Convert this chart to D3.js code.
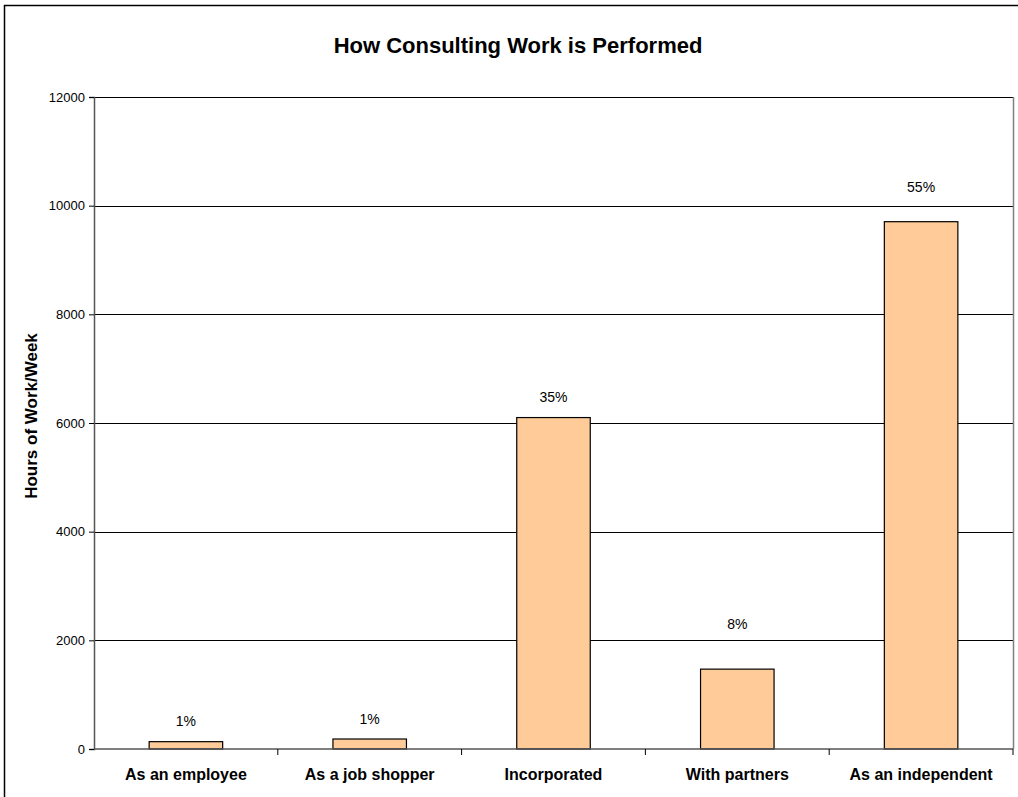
<!DOCTYPE html>
<html>
<head>
<meta charset="utf-8">
<script src="https://cdn.jsdelivr.net/npm/d3@7"></script>
<style>
  html, body { margin: 0; padding: 0; background: #fff; }
  svg { display: block; font-family: "Liberation Sans", Arial, sans-serif; }
</style>
</head>
<body>
<svg id="chart" width="1018" height="797"></svg>
<script>
// Hours of consulting work per week, by how the work is performed
const categories = ["As an employee", "As a job shopper", "Incorporated", "With partners", "As an independent"];
const hours = [135, 184, 6100, 1470, 9705];
const shareLabels = ["1%", "1%", "35%", "8%", "55%"];
const yTicks = [0, 2000, 4000, 6000, 8000, 10000, 12000];

// Vertical gap between each bar top and its share label
const labelGap = [21, 20, 21, 45, 35];

const svg = d3.select("#chart");
const plot = { left: 94, right: 1013, top: 97, bottom: 749 };

// Outer chart frame (continues past the bottom and right edges)
svg.append("path")
  .attr("d", "M4.5,800 V5.5 H1020")
  .attr("fill", "none")
  .attr("stroke", "#000")
  .attr("stroke-width", 1.5);

svg.append("text")
  .attr("x", 518).attr("y", 53)
  .attr("text-anchor", "middle")
  .attr("font-size", 22).attr("font-weight", "bold")
  .text("How Consulting Work is Performed");

const x = d3.scaleBand()
  .domain(categories)
  .range([plot.left, plot.right]);

const y = d3.scaleLinear()
  .domain([0, 12000])
  .range([plot.bottom, plot.top]);

// Horizontal gridlines
svg.append("g")
  .selectAll("line")
  .data(yTicks.filter(d => d > 0))
  .join("line")
  .attr("x1", plot.left).attr("x2", plot.right)
  .attr("y1", d => Math.round(y(d)) + 0.5).attr("y2", d => Math.round(y(d)) + 0.5)
  .attr("stroke", "#000").attr("stroke-width", 1);

// Right edge of the plot area
svg.append("line")
  .attr("x1", plot.right + 0.5).attr("x2", plot.right + 0.5)
  .attr("y1", plot.top).attr("y2", plot.bottom)
  .attr("stroke", "#808080").attr("stroke-width", 1.5);

// Bars
const barWidth = x.bandwidth() * 0.4;
svg.append("g")
  .selectAll("rect")
  .data(categories)
  .join("rect")
  .attr("x", (d) => x(d) + (x.bandwidth() - barWidth) / 2)
  .attr("width", barWidth)
  .attr("y", (d, i) => y(hours[i]))
  .attr("height", (d, i) => y(0) - y(hours[i]))
  .attr("fill", "#ffcc99")
  .attr("stroke", "#000")
  .attr("stroke-width", 1.2);

// Share labels above bars
svg.append("g")
  .selectAll("text")
  .data(categories)
  .join("text")
  .attr("x", d => x(d) + x.bandwidth() / 2)
  .attr("y", (d, i) => y(hours[i]) - labelGap[i] + 5)
  .attr("text-anchor", "middle")
  .attr("font-size", 14)
  .text((d, i) => shareLabels[i]);

// Y axis
const yAxis = svg.append("g")
  .attr("transform", `translate(${plot.left},0)`)
  .call(d3.axisLeft(y).tickValues(yTicks).tickSize(5).tickPadding(4).tickFormat(d3.format("d")));
yAxis.select(".domain").attr("stroke", "#555").attr("stroke-width", 1.5);
yAxis.selectAll(".tick line").attr("stroke", "#000");
yAxis.selectAll(".tick text")
  .attr("font-size", 13).attr("fill", "#000")
  .attr("font-family", "'Liberation Sans', Arial, sans-serif");

// X axis: baseline with ticks between categories
const xAxis = svg.append("g");
xAxis.append("line")
  .attr("x1", plot.left).attr("x2", plot.right)
  .attr("y1", plot.bottom).attr("y2", plot.bottom)
  .attr("stroke", "#555").attr("stroke-width", 1.5);
xAxis.selectAll("line.tick")
  .data(categories.slice(1).concat([null]))
  .join("line")
  .attr("class", "tick")
  .attr("x1", d => d === null ? plot.right : x(d))
  .attr("x2", d => d === null ? plot.right : x(d))
  .attr("y1", plot.bottom).attr("y2", plot.bottom + 6)
  .attr("stroke", "#000");
xAxis.selectAll("text")
  .data(categories)
  .join("text")
  .attr("x", d => x(d) + x.bandwidth() / 2)
  .attr("y", plot.bottom + 31)
  .attr("text-anchor", "middle")
  .attr("font-size", 16).attr("font-weight", "bold")
  .text(d => d);

// Y axis title
svg.append("text")
  .attr("transform", "translate(37,416) rotate(-90)")
  .attr("text-anchor", "middle")
  .attr("font-size", 17).attr("font-weight", "bold")
  .text("Hours of Work/Week");
</script>
</body>
</html>
